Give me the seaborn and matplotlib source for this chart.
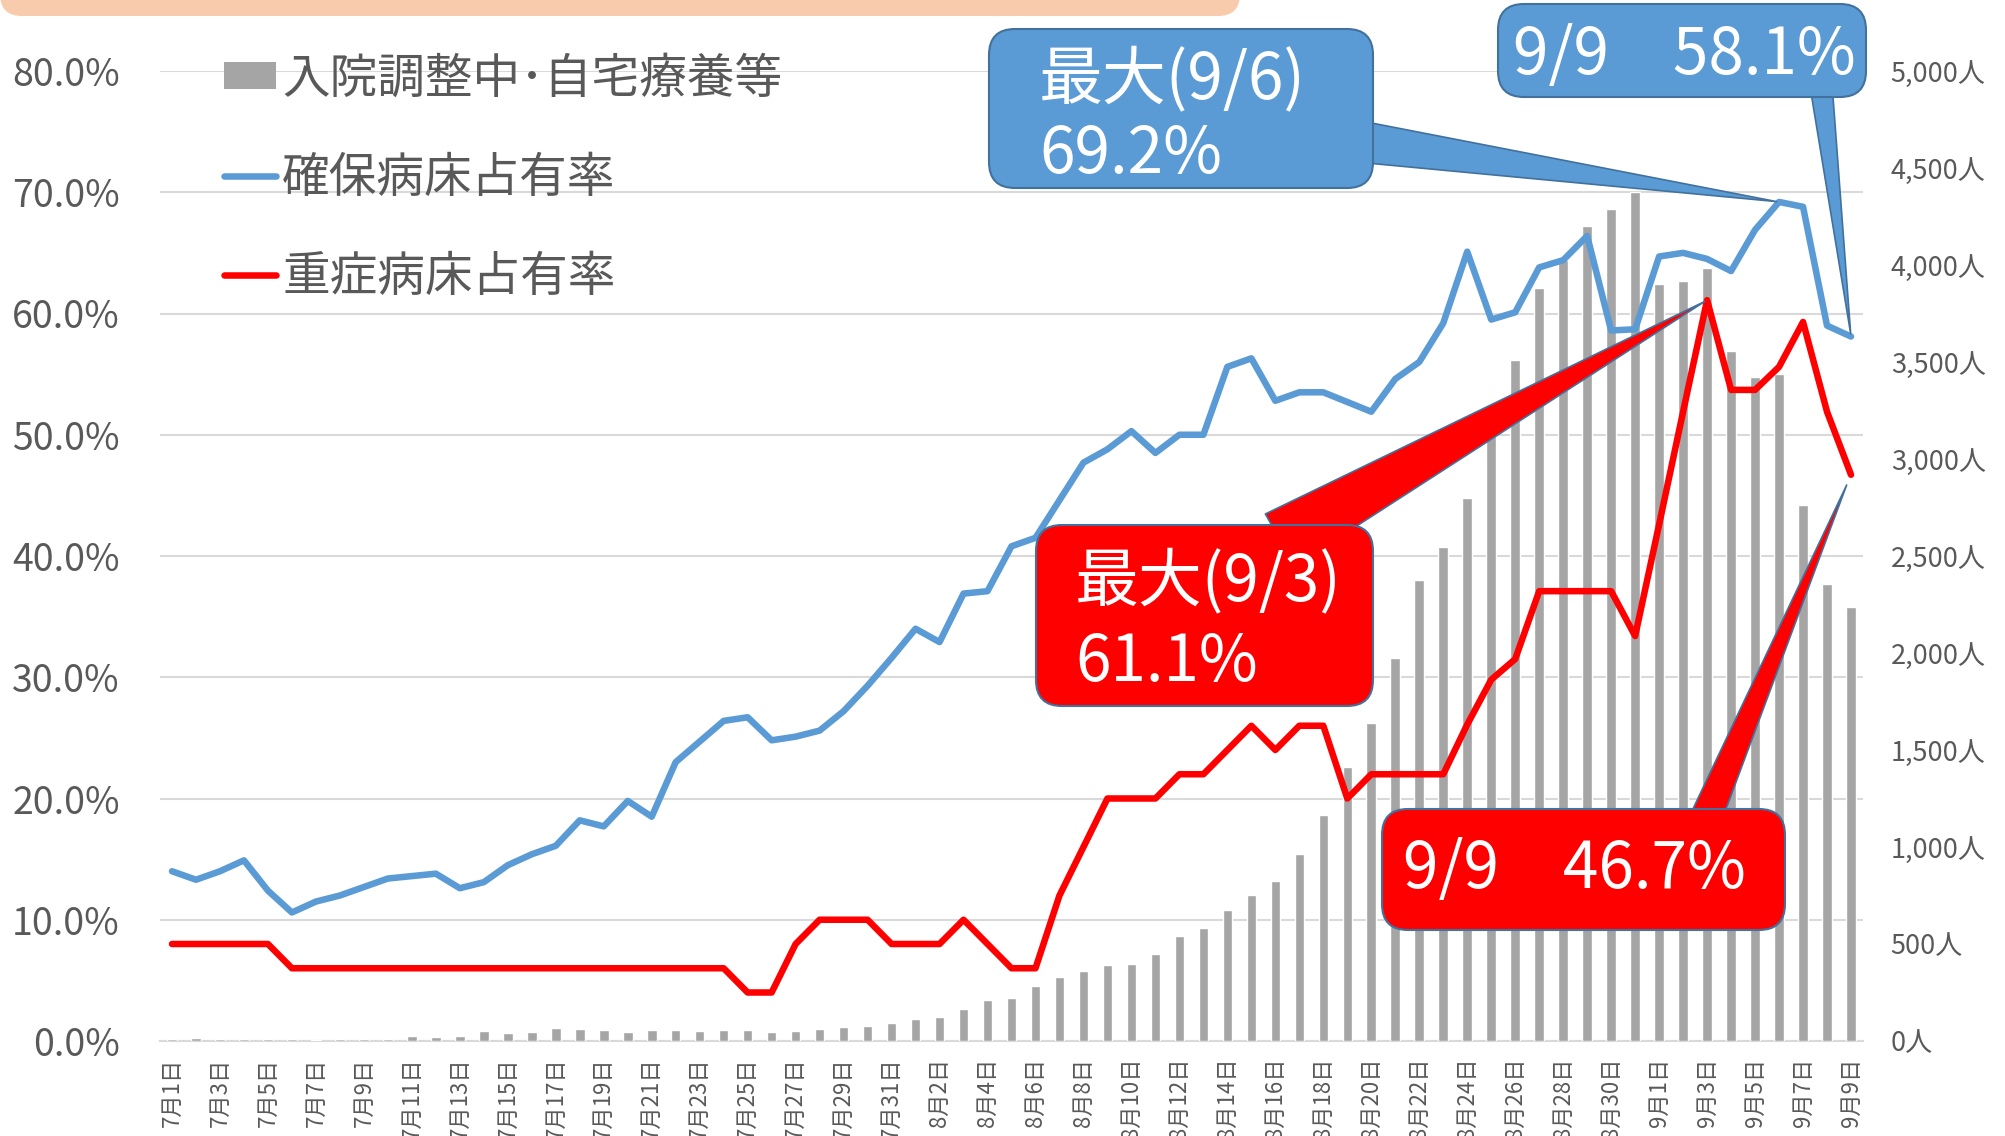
import numpy as np
import pandas as pd
import seaborn as sns
import matplotlib.pyplot as plt
import matplotlib.ticker as plticker
from matplotlib.patches import FancyBboxPatch, Patch
from matplotlib.lines import Line2D
from matplotlib.transforms import IdentityTransform

sns.set_style("white")
plt.rcParams["font.family"] = ["Noto Sans CJK JP", "DejaVu Sans"]

W, H = 2006, 1136
GRAY = "#a5a5a5"
BLUE = "#5b9bd5"
RED = "#ff0000"
EDGE = "#41719c"
GRID = "#d9d9d9"
TXT = "#595959"

# 7/1 - 9/9
dates = ([f"7月{d}日" for d in range(1, 32)]
         + [f"8月{d}日" for d in range(1, 32)]
         + [f"9月{d}日" for d in range(1, 10)])

# 入院調整中・自宅療養等 (人)
home_care = [10, 15, 10, 8, 8, 8, 5, 10, 12, 10,
             26, 21, 24, 52, 41, 48, 67, 64, 57, 48,
             57, 59, 52, 55, 59, 46, 52, 62, 71, 77, 95,
             112, 124, 165, 212, 220, 284, 331, 362, 393, 396,
             451, 541, 582, 677, 751, 825, 966, 1167, 1412, 1641,
             1975, 2377, 2544, 2801, 3151, 3512, 3880, 4028, 4200, 4290, 4378,
             3902, 3920, 3983, 3557, 3422, 3437, 2763, 2355, 2237]

# 確保病床占有率 (%)
secured_rate = [14.0, 13.3, 14.0, 14.9, 12.4, 10.6, 11.5, 12.0, 12.7, 13.4,
                13.6, 13.8, 12.6, 13.1, 14.5, 15.4, 16.1, 18.2, 17.7, 19.8,
                18.5, 23.0, 24.7, 26.4, 26.7, 24.8, 25.1, 25.6, 27.2, 29.3, 31.6,
                34.0, 32.9, 36.9, 37.1, 40.8, 41.5, 44.6, 47.7, 48.8, 50.3,
                48.5, 50.0, 50.0, 55.6, 56.3, 52.8, 53.5, 53.5, 52.7, 51.9,
                54.6, 56.0, 59.2, 65.1, 59.5, 60.1, 63.8, 64.4, 66.4, 58.6, 58.7,
                64.7, 65.0, 64.5, 63.5, 66.9, 69.2, 68.8, 59.0, 58.1]

# 重症病床占有率 (%)
severe_rate = [8.0, 8.0, 8.0, 8.0, 8.0, 6.0, 6.0, 6.0, 6.0, 6.0,
               6.0, 6.0, 6.0, 6.0, 6.0, 6.0, 6.0, 6.0, 6.0, 6.0,
               6.0, 6.0, 6.0, 6.0, 4.0, 4.0, 8.0, 10.0, 10.0, 10.0, 8.0,
               8.0, 8.0, 10.0, 8.0, 6.0, 6.0, 12.0, 16.0, 20.0, 20.0,
               20.0, 22.0, 22.0, 24.0, 26.0, 24.0, 26.0, 26.0, 20.0, 22.0,
               22.0, 22.0, 22.0, 26.1, 29.8, 31.5, 37.1, 37.1, 37.1, 37.1, 33.4,
               42.6, 51.9, 61.1, 53.7, 53.7, 55.6, 59.3, 51.9, 46.7]

legend_labels = ["入院調整中･自宅療養等", "確保病床占有率", "重症病床占有率"]

n = len(dates)
idx = np.arange(n)
short = [d.replace("月", "/").replace("日", "") for d in dates]
df = pd.DataFrame({"date": dates, "home": home_care})

fig = plt.figure(figsize=(W / 100, H / 100), dpi=100)
ax_bar = fig.add_axes([160 / W, 1 - 1041 / H, (1863 - 160) / W, (1041 - 71) / H])

sns.barplot(data=df, x="date", y="home", color=GRAY, saturation=1, width=0.4, ax=ax_bar)
ax_line = ax_bar.twinx()
sns.lineplot(x=idx, y=secured_rate, ax=ax_line, color=BLUE, linewidth=4.7,
             solid_joinstyle="round", solid_capstyle="round")
sns.lineplot(x=idx, y=severe_rate, ax=ax_line, color=RED, linewidth=4.7,
             solid_joinstyle="round", solid_capstyle="round")

# right axis (人) with gridlines every 10% of the left axis
ax_bar.set_ylim(0, 5000)
ax_bar.yaxis.tick_right()
ax_bar.yaxis.set_major_locator(plticker.MultipleLocator(500))
ax_bar.yaxis.set_major_formatter(plticker.FuncFormatter(lambda v, p: f"{int(v):,}人"))
ax_bar.yaxis.set_minor_locator(plticker.MultipleLocator(625))
ax_bar.yaxis.remove_overlapping_locs = False
ax_bar.grid(which="minor", axis="y", color=GRID, lw=1.5)
ax_bar.tick_params(axis="y", which="both", length=0, labelsize=19.5, labelcolor=TXT, pad=20)
ax_bar.set_xlabel("")
ax_bar.set_ylabel("")

# left axis (%)
ax_line.set_ylim(0, 80)
ax_line.yaxis.tick_left()
ax_line.yaxis.set_major_locator(plticker.MultipleLocator(10))
ax_line.yaxis.set_major_formatter(plticker.FuncFormatter(lambda v, p: f"{v:.1f}%"))
ax_line.tick_params(axis="y", length=0, labelsize=27, labelcolor=TXT, pad=29)
ax_line.set_ylabel("")

# x axis
ax_bar.set_xlim(-0.5, n - 0.5)
ax_bar.set_xticks(idx[::2])
ax_bar.set_xticklabels(dates[::2], rotation=90, fontsize=16, color=TXT)
ax_bar.set_xticks(np.arange(-0.5, n - 1, 2), minor=True)
ax_bar.tick_params(axis="x", which="major", length=0, pad=12)
ax_bar.tick_params(axis="x", which="minor", length=8, width=1.5, color=GRID)

for ax in (ax_bar, ax_line):
    for s in ("top", "left", "right"):
        ax.spines[s].set_visible(False)
ax_line.spines["bottom"].set_visible(False)
ax_bar.spines["bottom"].set_color(GRID)
ax_bar.spines["bottom"].set_linewidth(1.5)
ax_bar.spines["bottom"].set_zorder(0.5)

# legend
handles = [Patch(fc=GRAY, ec="none"),
           Line2D([], [], color=BLUE, lw=4.7, solid_capstyle="round"),
           Line2D([], [], color=RED, lw=4.7, solid_capstyle="round")]
ax_line.legend(handles, legend_labels, loc="upper left",
               bbox_to_anchor=(224 / W, 1 - 54 / H), bbox_transform=fig.transFigure,
               frameon=False, fontsize=34.3, labelcolor=TXT, handlelength=1.1,
               handleheight=0.48, handletextpad=0.12, labelspacing=1.04,
               borderpad=0, borderaxespad=0)

# peach banner at the top
fig.add_artist(FancyBboxPatch((0, H - 16), 1240, 80, boxstyle="round,pad=0,rounding_size=22",
                              transform=IdentityTransform(), fc="#f8cbad", ec="none", zorder=1))


def callout(box, lines, fill, base, tip, tail_w, shrink_tip=2):
    x0, y0, x1, y1 = box
    fig.add_artist(FancyBboxPatch((x0, H - y1), x1 - x0, y1 - y0,
                                  boxstyle="round,pad=0,rounding_size=26",
                                  transform=IdentityTransform(), fc=fill, ec=EDGE,
                                  lw=1.5, zorder=6))
    for tx, ty, s in lines:
        fig.text(tx / W, 1 - ty / H, s, color="white", fontsize=46,
                 ha="left", va="center", zorder=7)
    ax_line.annotate("", xy=tip, xycoords="data",
                     xytext=(base[0], H - base[1]), textcoords="figure pixels",
                     arrowprops=dict(arrowstyle=f"wedge,tail_width={tail_w},shrink_factor=0.5",
                                     mutation_scale=10, fc=fill, ec=EDGE, lw=1.2,
                                     shrinkA=0, shrinkB=shrink_tip),
                     annotation_clip=False, zorder=5)


ib = int(np.argmax(secured_rate))
ir = int(np.argmax(severe_rate))
callout((989, 29, 1373, 188),
        [(1039, 80, f"最大({short[ib]})"), (1039, 155, f"{secured_rate[ib]:.1f}%")],
        BLUE, (1355, 141), (ib, secured_rate[ib]), 3.0)
callout((1498, 4, 1866, 97),
        [(1513, 56, f"{short[-1]}　{secured_rate[-1]:.1f}%")],
        BLUE, (1821, 85), (n - 1, secured_rate[-1]), 1.6)
callout((1036, 525, 1373, 706),
        [(1075, 582, f"最大({short[ir]})"), (1075, 663, f"{severe_rate[ir]:.1f}%")],
        RED, (1280, 540), (ir, severe_rate[ir]), 4.3)
callout((1382, 809, 1785, 930),
        [(1403, 870, f"{short[-1]}　{severe_rate[-1]:.1f}%")],
        RED, (1703, 825), (n - 1, severe_rate[-1]), 2.3, shrink_tip=8)

fig.savefig("out.png", dpi=100)
